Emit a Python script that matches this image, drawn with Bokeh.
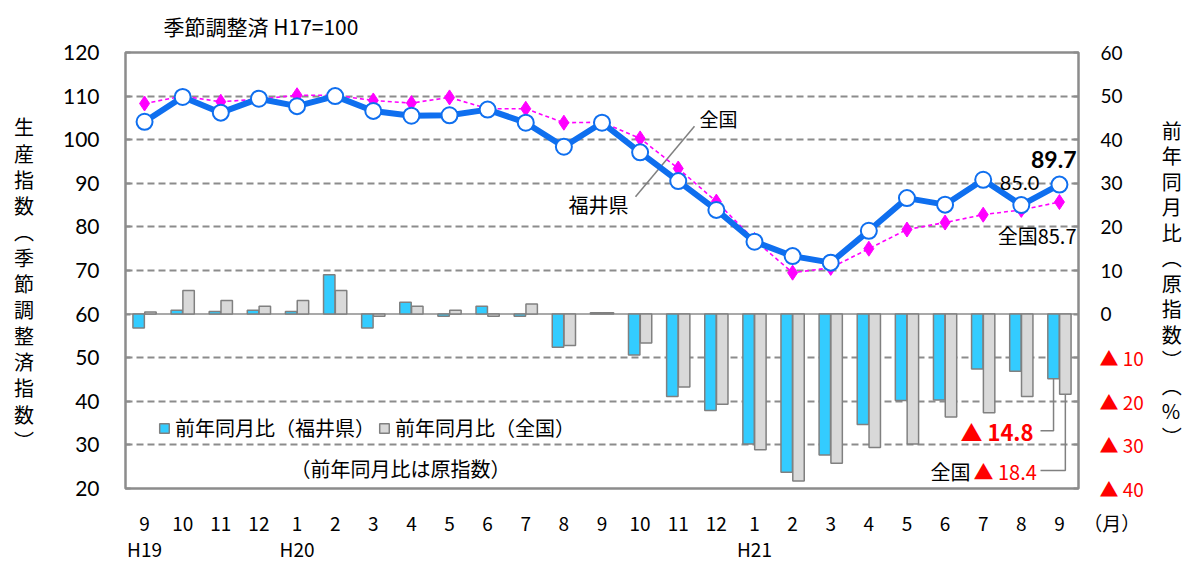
from bokeh.plotting import figure
from bokeh.models import Range1d, LinearAxis, FixedTicker, Label, Legend, LegendItem, Span, Title
from bokeh.models import ColumnDataSource
from bokeh.embed import file_html
from bokeh.resources import INLINE

# ---------------- data ----------------
months = ["9", "10", "11", "12", "1", "2", "3", "4", "5", "6", "7", "8", "9",
          "10", "11", "12", "1", "2", "3", "4", "5", "6", "7", "8", "9"]
era_labels = ["H19", "H20", "H21"]
era_index = [0, 4, 16]
month_unit = "（月）"

fukui_index = [104.1, 109.8, 106.2, 109.4, 107.7, 110.0, 106.6, 105.5, 105.6, 106.9,
               103.9, 98.4, 103.9, 97.1, 90.5, 83.9, 76.6, 73.3, 71.8, 79.1,
               86.6, 85.1, 90.8, 85.0, 89.7]
national_index = [108.3, 110.0, 108.7, 109.3, 110.2, 110.2, 109.0, 108.4, 109.7, 107.1,
                  107.1, 103.9, 104.0, 100.3, 93.4, 85.8, 77.0, 69.5, 70.6, 75.0,
                  79.4, 81.0, 82.8, 83.9, 85.7]
fukui_yoy = [-3.2, 0.9, 0.6, 0.9, 0.6, 9.0, -3.2, 2.7, -0.5, 1.8,
             -0.5, -7.6, 0.3, -9.4, -18.9, -22.1, -29.8, -36.3, -32.3, -25.3,
             -19.8, -19.7, -12.6, -13.1, -14.8]
national_yoy = [0.5, 5.4, 3.1, 1.8, 3.1, 5.4, -0.5, 1.8, 0.9, -0.5,
                2.3, -7.2, 0.3, -6.6, -16.7, -20.7, -31.1, -38.3, -34.2, -30.6,
                -29.8, -23.6, -22.6, -18.9, -18.4]

left_ticks = [20, 30, 40, 50, 60, 70, 80, 90, 100, 110, 120]
right_ticks = [-40, -30, -20, -10, 0, 10, 20, 30, 40, 50, 60]

left_title = ["生", "産", "指", "数", "︵", "季", "節", "調", "整", "済", "指", "数", "︶"]
right_title = ["前", "年", "同", "月", "比", "︵", "原", "指", "数", "︶", "︵", "%", "︶"]

# ---------------- layout helpers (page pixel -> data) ----------------
N = len(months)
FX0, FW, FY0, FH = 125.0, 953.0, 52.0, 438.0
YMIN, YMAX = 20.0, 120.0
OFFSET = 60.0  # right axis = left axis - 60


def px_x(px):
    return (px - FX0) / FW * N


def px_y(py):
    return YMAX - (py - FY0) / FH * (YMAX - YMIN)


JP = "Noto Sans CJK JP"
NUM = "Lato"
GRAY = "#8C8C8C"
BLUE = "#0F6FEF"
MAGENTA = "#FF00FF"
RED = "#FF0000"
PAD = "\u3000"

p = figure(width=1195, height=564, x_range=Range1d(0, N), y_range=Range1d(YMIN, YMAX),
           output_backend="svg", toolbar_location=None,
           min_border_left=125, min_border_right=117, min_border_top=52, min_border_bottom=74)
p.extra_y_ranges = {"pct": Range1d(YMIN - OFFSET, YMAX - OFFSET)}
p.outline_line_color = GRAY
p.outline_line_width = 2.5
p.background_fill_color = "white"
p.border_fill_color = "white"

# title
p.title = Title(text="季節調整済 H17=100", align="left", offset=38, standoff=20,
                vertical_align="top",
                text_font=JP, text_font_size="21px",
                text_font_style="normal", text_color="black")

xs = [i + 0.5 for i in range(N)]

# x axis (month, with era on a second line, unit at the right end)
xlabels = list(months)
for name, idx in zip(era_labels, era_index):
    xlabels[idx] = months[idx] + "\n" + name
xa = p.xaxis[0]
xa.ticker = FixedTicker(ticks=xs + [float(N)])
overrides = {x: m for x, m in zip(xs, xlabels)}
overrides[float(N)] = PAD * 4 + month_unit
xa.major_label_overrides = overrides
xa.axis_line_color = None
xa.major_tick_line_color = None
xa.minor_tick_line_color = None
xa.major_label_standoff = 14
xa.major_label_text_font = JP
xa.major_label_text_font_size = "19px"
xa.major_label_text_line_height = 0.98
xa.major_label_text_color = "black"

# left axis
ya = p.yaxis[0]
ya.ticker = FixedTicker(ticks=left_ticks)
ya.axis_line_color = None
ya.major_tick_in = 5
ya.major_tick_out = 0
ya.major_tick_line_color = GRAY
ya.major_tick_line_width = 2
ya.minor_tick_line_color = None
ya.major_label_standoff = 26
ya.major_label_text_font = NUM
ya.major_label_text_font_size = "21px"
ya.major_label_text_color = "black"
ya.axis_label = "\n".join([PAD] + left_title)
ya.axis_label_orientation = "horizontal"
ya.axis_label_standoff = 26
ya.axis_label_text_font = JP
ya.axis_label_text_font_size = "20px"
ya.axis_label_text_font_style = "normal"
ya.axis_label_text_line_height = 0.9
ya.axis_label_text_align = "center"
ya.axis_label_text_color = "black"

# right axis (positive values, black)
ra = LinearAxis(y_range_name="pct", ticker=FixedTicker(ticks=right_ticks))
ra.major_label_overrides = {t: ("" if t < 0 else str(t)) for t in right_ticks}
ra.axis_line_color = None
ra.major_tick_in = 5
ra.major_tick_out = 0
ra.major_tick_line_color = GRAY
ra.major_tick_line_width = 2
ra.minor_tick_line_color = None
ra.major_label_standoff = 22
ra.major_label_text_font = NUM
ra.major_label_text_font_size = "19px"
ra.major_label_text_color = "black"
p.add_layout(ra, "right")

# right axis (negative values shown as red "▲ n", drawn over the same column)
neg_ticks = [t for t in right_ticks if t < 0]
rn = LinearAxis(y_range_name="pct", ticker=FixedTicker(ticks=neg_ticks))
rn.major_label_overrides = {t: "▲ " + str(-t) for t in neg_ticks}
rn.axis_line_color = None
rn.major_tick_line_color = None
rn.minor_tick_line_color = None
rn.major_label_standoff = -32
rn.major_label_text_font = JP
rn.major_label_text_font_size = "19px"
rn.major_label_text_color = RED
rn.axis_label = "\n".join([PAD] + right_title)
rn.axis_label_orientation = "horizontal"
rn.axis_label_standoff = 15
rn.axis_label_text_font = JP
rn.axis_label_text_font_size = "20px"
rn.axis_label_text_font_style = "normal"
rn.axis_label_text_line_height = 0.88
rn.axis_label_text_align = "center"
rn.axis_label_text_color = "black"
p.add_layout(rn, "right")

# grid
p.xgrid.visible = False
p.ygrid.ticker = FixedTicker(ticks=[t for t in left_ticks[1:-1] if t != 60])
p.ygrid.grid_line_color = GRAY
p.ygrid.grid_line_dash = "7 4"
p.ygrid.grid_line_width = 2

p.add_layout(Span(location=0, dimension="width", y_range_name="pct",
                  line_color=GRAY, line_width=1.5, level="underlay"))

# bars
src = ColumnDataSource(dict(xb=[x - 0.155 for x in xs], xg=[x + 0.155 for x in xs],
                            fukui=fukui_yoy, national=national_yoy))
rb = p.vbar(x="xb", top="fukui", bottom=0, width=0.3, y_range_name="pct", source=src,
            fill_color="#33CCFF", line_color="#808080", line_width=1.5)
rg = p.vbar(x="xg", top="national", bottom=0, width=0.3, y_range_name="pct", source=src,
            fill_color="#D9D9D9", line_color="#808080", line_width=1.5)

# leader line for series labels
p.segment(x0=[px_x(694)], y0=[px_y(126)], x1=[px_x(635)], y1=[px_y(197)],
          line_color="#808080", line_width=1.5)

# national line
p.line(xs, national_index, line_color=MAGENTA, line_width=1.6, line_dash="4 3")
p.scatter(xs, national_index, marker="diamond", size=15, fill_color=MAGENTA, line_color=MAGENTA)

# Fukui line
p.line(xs, fukui_index, line_color=BLUE, line_width=6)
p.scatter(xs, fukui_index, marker="circle", size=16, fill_color="white", line_color=BLUE, line_width=2)

# leader lines for last bar values
xb_last = xs[-1] - 0.155
xg_last = xs[-1] + 0.155
p.line([px_x(1040), xb_last, xb_last], [px_y(432), px_y(432), fukui_yoy[-1] + OFFSET],
       line_color="#808080", line_width=1.5)
p.line([px_x(1040), xg_last, xg_last], [px_y(472), px_y(472), national_yoy[-1] + OFFSET],
       line_color="#808080", line_width=1.5)

# legend
legend = Legend(items=[LegendItem(label="前年同月比（福井県）", renderers=[rb]),
                       LegendItem(label="前年同月比（全国）", renderers=[rg])],
                orientation="horizontal", location=(33, 46),
                glyph_width=12, glyph_height=12, label_standoff=5, spacing=3,
                padding=0, margin=0, border_line_alpha=0, background_fill_alpha=0,
                label_text_font=JP, label_text_font_size="20px", label_text_color="black")
p.add_layout(legend)


def add_text(text, px, py, size="19px", color="black", font=JP, align="center",
             style="normal", bg=None):
    lab = Label(x=px_x(px), y=px_y(py), text=text, text_font=font, text_font_size=size,
                text_color=color, text_align=align, text_baseline="middle",
                text_font_style=style)
    if bg is not None:
        lab.background_fill_color = bg
    p.add_layout(lab)


add_text("（前年同月比は原指数）", 400, 470, size="20px")
add_text("全国", 718, 118, size="19px")
add_text("福井県", 598, 205, size="20px")

# value annotations
add_text("%.1f" % fukui_index[-1], 1076, 159, size="23px", font=NUM, style="bold",
         bg="white", align="right")
add_text("%.1f" % fukui_index[-2], 1019, 183, size="20px", font=NUM)
add_text("全国%.1f" % national_index[-1], 1076, 236, size="20px", align="right")
add_text("▲ %.1f" % (-fukui_yoy[-1]), 1033, 432, size="22px", color=RED, style="bold", align="right")
add_text("全国", 970, 473, size="20px", align="right")
add_text("▲ %.1f" % (-national_yoy[-1]), 973, 473, size="20px", color=RED, align="left")

open("out.html", "w").write(file_html(p, INLINE))
